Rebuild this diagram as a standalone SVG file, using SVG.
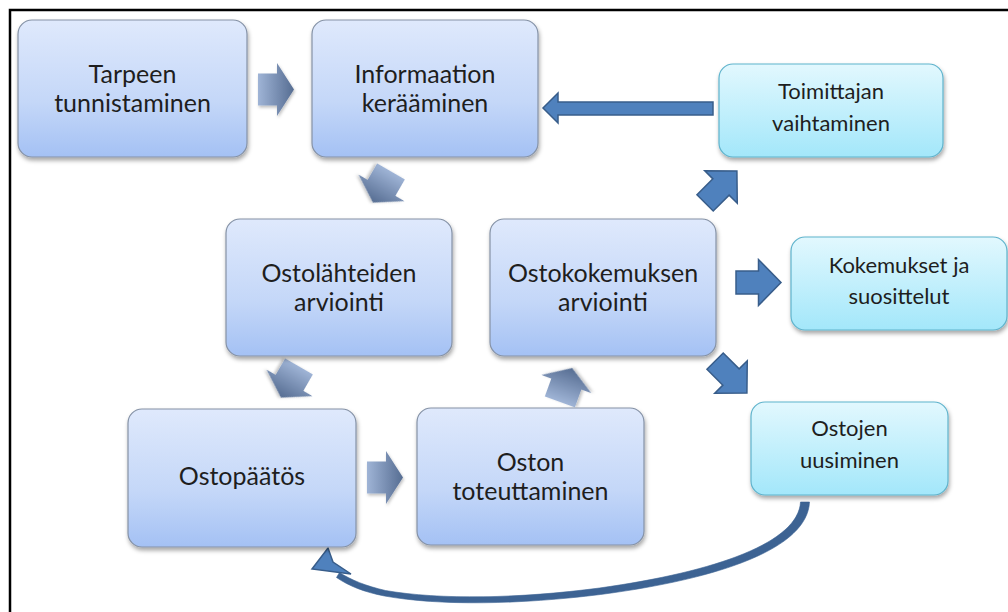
<svg xmlns="http://www.w3.org/2000/svg" width="1008" height="612" viewBox="0 0 1008 612">
<style>
.blue{fill:url(#gBlue);stroke:#8592a6;stroke-width:1.2;filter:url(#sh)}
.cyan{fill:url(#gCyan);stroke:#5fb3cc;stroke-width:1.2;filter:url(#sh)}
.tb{font-family:Lato,"Open Sans",sans-serif;font-size:25px;fill:#1e1e1e;text-anchor:middle}
.tc{font-family:Lato,"Open Sans",sans-serif;font-size:22px;fill:#1e1e1e;text-anchor:middle}
.garr{fill:url(#gArr);filter:url(#sh2)}
.barr{fill:#4f81bd;stroke:#385d8a;stroke-width:1.5}
.curve{fill:#3d6393;stroke:#3d6393;stroke-width:0.6}
</style>
<defs>
<linearGradient id="gBlue" x1="0" y1="0" x2="0" y2="1">
<stop offset="0" stop-color="#dfe9fc"/>
<stop offset="0.6" stop-color="#c4d7f8"/>
<stop offset="1" stop-color="#a4c1f4"/>
</linearGradient>
<linearGradient id="gCyan" x1="0" y1="0" x2="0" y2="1">
<stop offset="0" stop-color="#e2f8fe"/>
<stop offset="1" stop-color="#a3e7fa"/>
</linearGradient>
<linearGradient id="gArr" x1="0" y1="0" x2="1" y2="0">
<stop offset="0" stop-color="#9fb4d6"/>
<stop offset="1" stop-color="#566d92"/>
</linearGradient>
<filter id="sh" x="-10%" y="-10%" width="120%" height="130%">
<feDropShadow dx="1" dy="3" stdDeviation="2" flood-color="#000" flood-opacity="0.35"/>
</filter>
<filter id="sh2" x="-20%" y="-20%" width="140%" height="140%">
<feDropShadow dx="1" dy="2" stdDeviation="1.5" flood-color="#000" flood-opacity="0.25"/>
</filter>
<path id="ga" d="M-18,-16 H1 V-26.5 L18,0 L1,26.5 V16 H-18 Z"/>
<path id="ba" d="M-22.5,-11.5 H0 V-23 L22.5,0 L0,23 V11.5 H-22.5 Z"/>
</defs>
<rect x="10" y="10" width="1020" height="620" fill="#fff" stroke="#000" stroke-width="2.5"/>

<g id="connectors">
<use href="#ga" class="garr" transform="translate(276,89.5)"/>
<use href="#ga" class="garr" transform="translate(382,187) rotate(120)"/>
<use href="#ga" class="garr" transform="translate(290,382) rotate(120)"/>
<use href="#ga" class="garr" transform="translate(385,477.5)"/>
<use href="#ga" class="garr" transform="translate(566,385) rotate(-70)"/>
<path class="barr" d="M713,102 H558 V93 L543,108 L558,123 V115 H713 Z"/>
<use href="#ba" class="barr" transform="translate(721,187) rotate(-45)"/>
<use href="#ba" class="barr" transform="translate(758.5,282.5)"/>
<use href="#ba" class="barr" transform="translate(731,377) rotate(45)"/>
<path class="curve" d="M809.5,502 C807.5,548 722,578.5 600.5,594.5 C520,604.5 440,606 384.5,596 C364,592 349,586 336.5,577.5 L339.5,572.5 C351,580 366,586 385.5,590.5 C440,600 520,598.5 599.5,588 C718,571.5 798.5,542 800.5,502 Z"/>
<path class="barr" d="M312,569 L328,548 L333,562 L351,574 Z"/>
</g>

<g id="n1"><rect class="blue" x="18" y="20" width="229" height="137" rx="14"/>
<text class="tb" x="132.5" y="83">Tarpeen</text><text class="tb" x="132.5" y="112">tunnistaminen</text></g>
<g id="n2"><rect class="blue" x="312" y="20" width="226" height="137" rx="14"/>
<text class="tb" x="425" y="83">Informaation</text><text class="tb" x="425" y="112">kerääminen</text></g>
<g id="n3"><rect class="blue" x="226" y="219" width="226" height="137" rx="14"/>
<text class="tb" x="339" y="282">Ostolähteiden</text><text class="tb" x="339" y="311">arviointi</text></g>
<g id="n4"><rect class="blue" x="490" y="219" width="226" height="137" rx="14"/>
<text class="tb" x="603" y="282">Ostokokemuksen</text><text class="tb" x="603" y="311">arviointi</text></g>
<g id="n5"><rect class="blue" x="128" y="409" width="228" height="138" rx="14"/>
<text class="tb" x="242" y="485">Ostopäätös</text></g>
<g id="n6"><rect class="blue" x="417" y="408" width="227" height="137" rx="14"/>
<text class="tb" x="530.5" y="471">Oston</text><text class="tb" x="530.5" y="500">toteuttaminen</text></g>
<g id="n7"><rect class="cyan" x="719" y="64" width="224" height="93" rx="14"/>
<text class="tc" x="831" y="99">Toimittajan</text><text class="tc" x="831" y="131">vaihtaminen</text></g>
<g id="n8"><rect class="cyan" x="791" y="237" width="216" height="93" rx="14"/>
<text class="tc" x="899" y="273">Kokemukset ja</text><text class="tc" x="899" y="304">suosittelut</text></g>
<g id="n9"><rect class="cyan" x="751" y="402" width="197" height="93" rx="14"/>
<text class="tc" x="849.5" y="436">Ostojen</text><text class="tc" x="849.5" y="468">uusiminen</text></g>
</svg>
